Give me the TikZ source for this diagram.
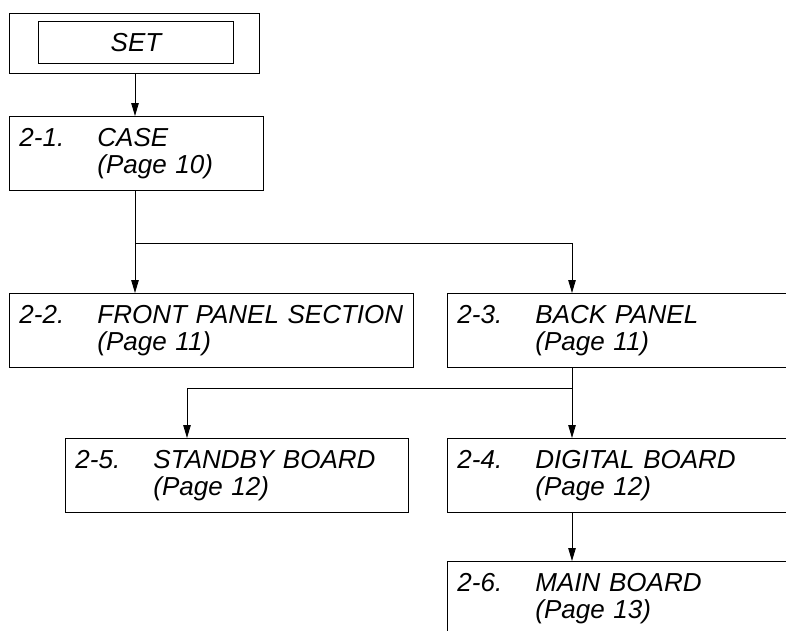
\documentclass[tikz,border=0pt]{standalone}
\usepackage{fontspec}
\setmainfont{Liberation Sans}
\usetikzlibrary{arrows.meta, calc}
\tikzset{
    step-box/.style={
        draw, line width=0.9pt, anchor=north west, align=left, text width=#1,
        inner xsep=10pt, inner ysep=0pt, minimum height=74pt,
        font=\fontsize{26}{27.5}\selectfont\itshape
    },
    step-wire/.style={
        line width=0.9pt
    },
    step-arrow/.style={
        step-wire, -{Triangle[length=13pt, width=7.5pt]}
    },
}
\newcommand{\steptext}[3]{\mbox{\makebox[78pt][l]{#1}#2}\\\mbox{\hspace*{78pt}(Page #3)}}

\begin{document}
\begin{tikzpicture}[x=1pt, y=-1pt]

        \useasboundingbox (0,0) rectangle (786,630);
        \clip (0,0) rectangle (786,630);

        % SET
        \node[draw, line width=0.9pt, anchor=north west, minimum width=250pt, minimum height=60pt] (SETOUT) at (9,13) {};
        \node[draw, line width=0.9pt, anchor=north west, minimum width=195pt, minimum height=42pt,
              font=\fontsize{26}{27.5}\selectfont\itshape] (SET) at (38,21) {SET};

        % STEPS
        \node[step-box=234pt] (CASE)    at (9,116)  {\steptext{2-1.}{CASE}{10}};
        \node[step-box=384pt] (FRONT)   at (9,293)  {\steptext{2-2.}{FRONT PANEL SECTION}{11}};
        \node[step-box=380pt] (BACK)    at (447,293) {\steptext{2-3.}{BACK PANEL}{11}};
        \node[step-box=323pt] (STANDBY) at (65,438) {\steptext{2-5.}{STANDBY BOARD}{12}};
        \node[step-box=380pt] (DIGITAL) at (447,438) {\steptext{2-4.}{DIGITAL BOARD}{12}};
        \node[step-box=380pt] (MAIN)    at (447,561) {\steptext{2-6.}{MAIN BOARD}{13}};

        % BRANCH POINTS
        \coordinate[] (SPLITA)    at (135,243);
        \coordinate[] (SPLITB)    at (572,388);
        \coordinate[] (BACKIN)    at ($(BACK.north west) + (125,0)$);
        \coordinate[] (STANDBYIN) at ($(STANDBY.north west) + (122,0)$);

        % CONNECTIONS
        \draw[step-arrow] (SETOUT.south -| SPLITA) -- (CASE.north -| SPLITA);
        \draw[step-wire]  (CASE.south -| SPLITA)   -- (SPLITA);
        \draw[step-arrow] (SPLITA) -- (FRONT.north -| SPLITA);
        \draw[step-arrow] (SPLITA) -| (BACKIN);
        \draw[step-wire]  (BACK.south -| SPLITB)   -- (SPLITB);
        \draw[step-arrow] (SPLITB) -- (DIGITAL.north -| SPLITB);
        \draw[step-arrow] (SPLITB) -| (STANDBYIN);
        \draw[step-arrow] (DIGITAL.south -| SPLITB) -- (MAIN.north -| SPLITB);

    \end{tikzpicture}
\end{document}
